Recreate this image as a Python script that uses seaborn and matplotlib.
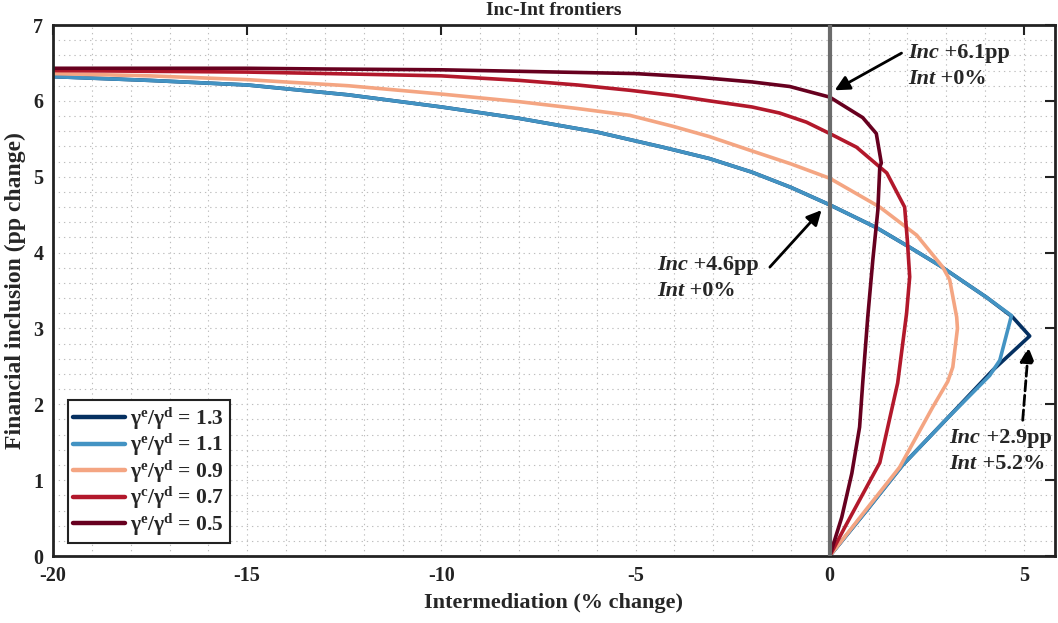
import numpy as np
import pandas as pd
import matplotlib
matplotlib.use("Agg")
import matplotlib.pyplot as plt
import seaborn as sns
from matplotlib.ticker import MultipleLocator

# ratios gamma^e / gamma^d (label text kept as in the original, incl. the "c")
rotulos = [r"$\gamma^{e}/\gamma^{d}$ = 1.3",
           r"$\gamma^{e}/\gamma^{d}$ = 1.1",
           r"$\gamma^{e}/\gamma^{d}$ = 0.9",
           r"$\gamma^{c}/\gamma^{d}$ = 0.7",
           r"$\gamma^{e}/\gamma^{d}$ = 0.5"]
cores = ["#053061", "#4393c3", "#f4a582", "#b2182b", "#67001f"]

# frontier points (intermediation %, inclusion pp)
x_13 = [-20, -17.5, -15, -12.4, -10, -8, -6, -4.3, -3.1, -2, -1, 0, 1.2, 2.06, 2.83, 4.04, 4.71, 5.15, 4.2, 3.0, 1.88, 0.95, 0]
y_13 = [6.32, 6.27, 6.21, 6.08, 5.92, 5.77, 5.59, 5.39, 5.24, 5.06, 4.86, 4.63, 4.33, 4.07, 3.83, 3.41, 3.15, 2.90, 2.45, 1.80, 1.20, 0.60, 0]

x_11 = [-20, -17.5, -15, -12.4, -10, -8, -6, -4.3, -3.1, -2, -1, 0, 1.2, 2.06, 2.83, 4.04, 4.68, 4.63, 4.38, 4.12, 3.0, 1.88, 0.95, 0]
y_11 = [6.32, 6.27, 6.21, 6.08, 5.92, 5.77, 5.59, 5.39, 5.24, 5.06, 4.86, 4.63, 4.33, 4.07, 3.83, 3.41, 3.17, 3.07, 2.58, 2.38, 1.80, 1.20, 0.60, 0]

x_09 = [-20, -17.5, -15, -12.4, -10, -8, -6.5, -5.15, -4, -3.1, -2, -1, 0, 1.29, 2.24, 2.91, 3.09, 3.27, 3.29, 3.17, 3.04, 2.65, 1.80, 0.95, 0]
y_09 = [6.36, 6.33, 6.28, 6.20, 6.09, 5.99, 5.90, 5.81, 5.66, 5.53, 5.34, 5.17, 4.98, 4.60, 4.23, 3.81, 3.64, 3.15, 3.00, 2.49, 2.30, 1.96, 1.17, 0.62, 0]

x_07 = [-20, -15, -12.87, -10, -7.98, -6.5, -5.15, -4, -3.09, -2, -1.29, -0.6, 0, 0.69, 1.47, 1.93, 2.0, 2.06, 1.98, 1.75, 1.29, 0.39, 0]
y_07 = [6.40, 6.38, 6.36, 6.33, 6.27, 6.21, 6.14, 6.07, 6.00, 5.92, 5.84, 5.72, 5.57, 5.39, 5.05, 4.60, 4.16, 3.68, 3.20, 2.28, 1.23, 0.38, 0]

x_05 = [-20, -15, -12.87, -10, -7.98, -5, -3.35, -2, -1.03, 0, 0.85, 1.2, 1.33, 1.29, 1.24, 1.11, 0.98, 0.85, 0.77, 0.57, 0.31, 0]
y_05 = [6.43, 6.43, 6.42, 6.41, 6.39, 6.36, 6.31, 6.25, 6.19, 6.05, 5.78, 5.57, 5.18, 5.13, 4.56, 3.90, 3.15, 2.28, 1.70, 1.09, 0.51, 0]

series_x = [x_13, x_11, x_09, x_07, x_05]
series_y = [y_13, y_11, y_09, y_07, y_05]

partes = []
for rot, xs, ys in zip(rotulos, series_x, series_y):
    partes.append(pd.DataFrame({"inter": xs, "incl": ys, "razao": rot}))
df = pd.concat(partes, ignore_index=True)

sns.set_style("white")
plt.rcParams["font.family"] = ["Liberation Serif", "DejaVu Serif"]
plt.rcParams["font.weight"] = "bold"
plt.rcParams["axes.unicode_minus"] = False
plt.rcParams["mathtext.fontset"] = "custom"
plt.rcParams["mathtext.rm"] = "Liberation Serif:bold"
plt.rcParams["mathtext.it"] = "Liberation Serif:bold"
plt.rcParams["mathtext.bf"] = "Liberation Serif:bold"
plt.rcParams["mathtext.default"] = "rm"

fig = plt.figure(figsize=(10.58, 6.23), dpi=100)
ax = fig.add_axes([0.0501, 0.1075, 0.947, 0.8523])

sns.lineplot(data=df, x="inter", y="incl", hue="razao", hue_order=rotulos,
             palette=cores, sort=False, estimator=None, linewidth=2.6, ax=ax)

ax.axvline(0, color="#6b6b6b", lw=3, zorder=3)

ax.set_xlim(-20, 5.8)
ax.set_ylim(0, 7)
ax.xaxis.set_major_locator(MultipleLocator(5))
ax.yaxis.set_major_locator(MultipleLocator(1))
ax.xaxis.set_minor_locator(MultipleLocator(1))
ax.yaxis.set_minor_locator(MultipleLocator(0.2))
ax.grid(which="both", linestyle=(0, (1.2, 3.5)), color="#bdbdbd", linewidth=0.8)
ax.tick_params(which="major", direction="in", length=7, width=1.5,
               top=True, right=True, labelsize=14.5, pad=7, colors="#222222")
ax.tick_params(which="minor", length=0)
for s in ax.spines.values():
    s.set_color("#222222")
    s.set_linewidth(2)

ax.set_title("Inc-Int frontiers", fontsize=14, fontweight="bold", pad=7)
ax.set_xlabel("Intermediation (% change)", fontsize=16, fontweight="bold", labelpad=5)
ax.set_ylabel("Financial inclusion (pp change)", fontsize=17, fontweight="bold", labelpad=5)

leg = ax.legend(loc="lower left", bbox_to_anchor=(0.015, 0.024), borderaxespad=0,
                fontsize=15.5, handlelength=2.4, handletextpad=0.25, labelspacing=0.0,
                fancybox=False, framealpha=1, edgecolor="#222222", borderpad=0.25)
leg.get_frame().set_linewidth(1.5)
for h in leg.get_lines():
    h.set_linewidth(3.2)


def nota(x, y, linhas):
    for i, (a, b) in enumerate(linhas):
        t = ax.annotate(a, xy=(x, y), xytext=(0, -18.5 * i), textcoords="offset points",
                        fontsize=16, fontweight="bold", style="italic",
                        va="baseline", ha="left", zorder=5)
        ax.annotate(b, xy=(1, 0), xycoords=t, fontsize=16, fontweight="bold",
                    va="bottom", ha="left", zorder=5)


def seta(cauda, ponta, estilo="-"):
    ax.annotate("", xy=ponta, xytext=cauda,
                arrowprops=dict(arrowstyle="-|>", color="black", lw=2, ls=estilo,
                                mutation_scale=22, shrinkA=0, shrinkB=0), zorder=5)


nota(2.01, 6.56, [("Inc", " +6.1pp"), ("Int", " +0%")])
seta((1.85, 6.63), (0.13, 6.14))
nota(-4.45, 3.77, [("Inc", " +4.6pp"), ("Int", " +0%")])
seta((-1.54, 3.81), (-0.21, 4.56))
nota(3.09, 1.49, [("Inc", " +2.9pp"), ("Int", " +5.2%")])
seta((4.97, 1.79), (5.12, 2.75), "--")

fig.savefig("out.png", dpi=100)
